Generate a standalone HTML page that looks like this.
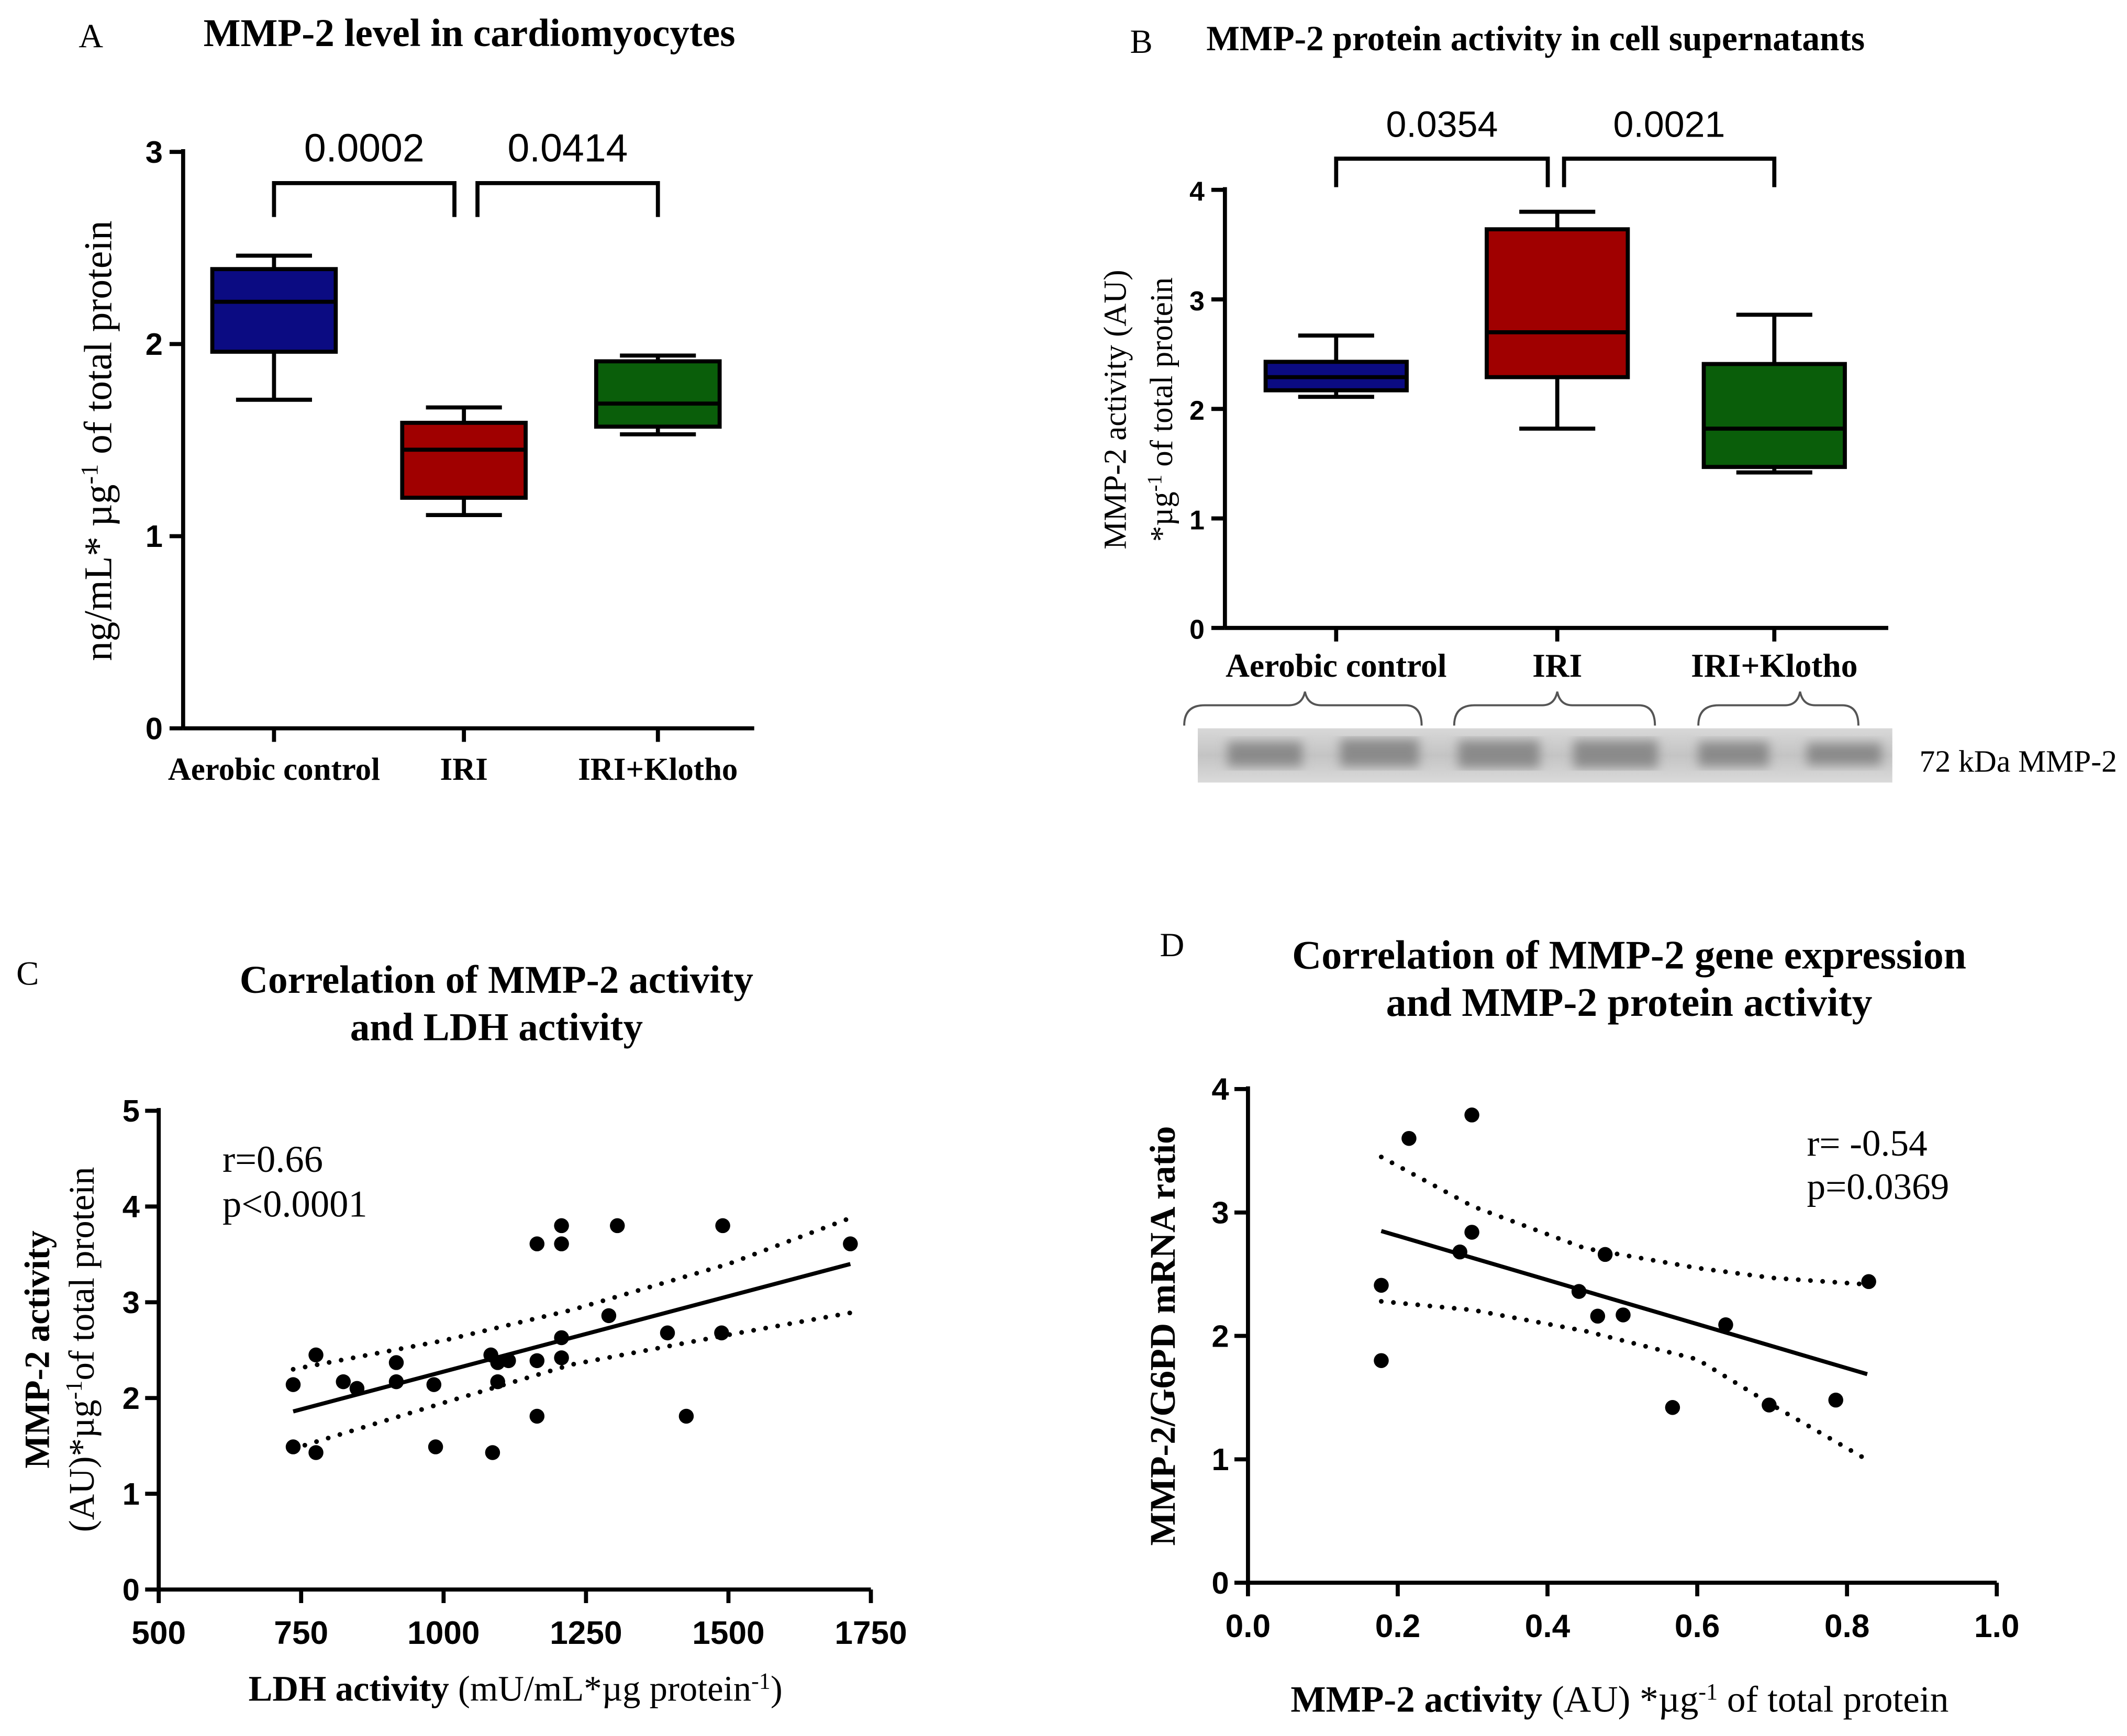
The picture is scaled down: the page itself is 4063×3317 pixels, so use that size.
<!DOCTYPE html>
<html><head><meta charset="utf-8"><style>
html,body{margin:0;padding:0;background:#fff;}
svg{display:block;}
.ser{font-family:"Liberation Serif",serif;}
.sans{font-family:"Liberation Sans",sans-serif;}
</style></head><body>
<svg id="fig" width="4063" height="3317" viewBox="0 0 1568 1280" preserveAspectRatio="none" xmlns="http://www.w3.org/2000/svg">
<defs><filter id="bl"><feGaussianBlur stdDeviation="4"/></filter>
<linearGradient id="gg" x1="0" y1="0" x2="0" y2="1"><stop offset="0" stop-color="#d8d8d8"/><stop offset="0.5" stop-color="#c4c4c4"/><stop offset="1" stop-color="#dadada"/></linearGradient></defs>

<text class="ser" x="58" y="35" font-size="25">A</text>
<text class="ser" x="346" y="34" font-size="29" font-weight="bold" text-anchor="middle">MMP-2 level in cardiomyocytes</text>
<text class="ser" font-size="29" transform="translate(82,325) rotate(-90)" text-anchor="middle">ng/mL* µg<tspan dy="-10" font-size="18">-1</tspan><tspan dy="10"> of total protein</tspan></text>
<g id="gA"></g>

<text class="ser" x="833" y="39" font-size="25">B</text>
<text class="ser" x="1132" y="37" font-size="26" font-weight="bold" text-anchor="middle">MMP-2 protein activity in cell supernatants</text>
<text class="ser" font-size="23.5" transform="translate(830,302) rotate(-90)" text-anchor="middle">MMP-2 activity (AU)</text>
<text class="ser" font-size="23.5" transform="translate(864,302) rotate(-90)" text-anchor="middle">*µg<tspan dy="-8" font-size="15">-1</tspan><tspan dy="8"> of total protein</tspan></text>
<g id="gB"></g>
<g>
<path d="M873,535 Q873,520 888,520 L950,520 Q960,520 962,510 Q964,520 974,520 L1036,520 Q1048,520 1048,535" fill="none" stroke="#555" stroke-width="1.5"/>
<path d="M1072,535 Q1072,520 1087,520 L1137,520 Q1146,520 1148,510 Q1150,520 1159,520 L1208,520 Q1220,520 1220,535" fill="none" stroke="#555" stroke-width="1.5"/>
<path d="M1252,535 Q1252,520 1267,520 L1316,520 Q1325,520 1327,510 Q1329,520 1338,520 L1358,520 Q1370,520 1370,535" fill="none" stroke="#555" stroke-width="1.5"/>
<rect x="883" y="537" width="512" height="40" fill="url(#gg)"/>
<g filter="url(#bl)" fill="#8a8a8a">
<rect x="905" y="547" width="55" height="18"/><rect x="988" y="545" width="58" height="20"/>
<rect x="1075" y="546" width="60" height="20"/><rect x="1160" y="546" width="62" height="20"/>
<rect x="1252" y="547" width="52" height="18"/><rect x="1332" y="548" width="55" height="16"/>
</g>
<text class="ser" x="1415" y="569" font-size="23">72 kDa MMP-2</text>
</g>

<text class="ser" x="12" y="726" font-size="25">C</text>
<text class="ser" x="366" y="732" font-size="29" font-weight="bold" text-anchor="middle">Correlation of MMP-2 activity</text>
<text class="ser" x="366" y="767" font-size="29" font-weight="bold" text-anchor="middle">and LDH activity</text>
<text class="ser" font-size="26" font-weight="bold" transform="translate(36,995) rotate(-90)" text-anchor="middle">MMP-2 activity</text>
<text class="ser" font-size="26.5" transform="translate(69,995) rotate(-90)" text-anchor="middle">(AU)*µg<tspan dy="-9" font-size="17">-1</tspan><tspan dy="9">of total protein</tspan></text>
<text class="ser" x="380" y="1254" font-size="26.5" text-anchor="middle"><tspan font-weight="bold">LDH activity</tspan> (mU/mL*µg protein<tspan dy="-9" font-size="17">-1</tspan><tspan dy="9">)</tspan></text>
<text class="ser" x="164" y="864" font-size="28">r=0.66</text>
<text class="ser" x="164" y="897" font-size="28">p&lt;0.0001</text>
<g id="gC"></g>

<text class="ser" x="855" y="705" font-size="25">D</text>
<text class="ser" x="1201" y="714" font-size="30" font-weight="bold" text-anchor="middle">Correlation of MMP-2 gene expression</text>
<text class="ser" x="1201" y="749" font-size="30" font-weight="bold" text-anchor="middle">and MMP-2 protein activity</text>
<text class="ser" font-size="26.4" font-weight="bold" transform="translate(866,985) rotate(-90)" text-anchor="middle">MMP-2/G6PD mRNA ratio</text>
<text class="ser" x="1194" y="1262" font-size="27.5" text-anchor="middle"><tspan font-weight="bold">MMP-2 activity</tspan> (AU) *µg<tspan dy="-9" font-size="17">-1</tspan><tspan dy="9"> of total protein</tspan></text>
<text class="ser" x="1332" y="852" font-size="27.5">r= -0.54</text>
<text class="ser" x="1332" y="884" font-size="27.5">p=0.0369</text>
<g id="gD"></g>
</svg>
<script>
// ---- Panel A data ----
const aCats = ["Aerobic control","IRI","IRI+Klotho"];
const aMin = [1.71, 1.11, 1.53];
const aQ1 = [1.96, 1.20, 1.57];
const aMed = [2.22, 1.45, 1.69];
const aQ3 = [2.39, 1.59, 1.91];
const aMax = [2.46, 1.67, 1.94];
const aTicks = [0,1,2,3];
const aP = ["0.0002","0.0414"];
// ---- Panel B data ----
const bCats = ["Aerobic control","IRI","IRI+Klotho"];
const bMin = [2.11, 1.82, 1.42];
const bQ1 = [2.17, 2.29, 1.47];
const bMed = [2.29, 2.70, 1.82];
const bQ3 = [2.43, 3.64, 2.41];
const bMax = [2.67, 3.80, 2.86];
const bTicks = [0,1,2,3,4];
const bP = ["0.0354","0.0021"];
// ---- Panel C data ----
const cX = [736,736,776,776,824,848,917,917,983,986,1083,1086,1095,1095,1114,1164,1164,1164,1207,1207,1207,1207,1305,1290,1393,1426,1490,1488,1714];
const cY = [2.14,1.49,2.45,1.43,2.17,2.10,2.37,2.17,2.14,1.49,2.45,1.43,2.37,2.17,2.39,3.61,1.81,2.39,3.80,3.61,2.63,2.42,3.80,2.86,2.68,1.81,3.80,2.68,3.61];
const cFitX = [736,1714];
const cFitY = [1.86,3.40];
const cBandX = [736,1000,1225,1500,1714];
const cUpper = [2.30,2.60,2.92,3.40,3.88];
const cLower = [1.47,1.95,2.35,2.66,2.89];
const cXTicks = [500,750,1000,1250,1500,1750];
const cYTicks = [0,1,2,3,4,5];
// ---- Panel D data ----
const dX = [0.178,0.178,0.215,0.299,0.299,0.283,0.477,0.442,0.467,0.501,0.638,0.567,0.696,0.785,0.829];
const dY = [2.41,1.80,3.60,3.79,2.84,2.68,2.66,2.36,2.16,2.17,2.09,1.42,1.44,1.48,2.44];
const dFitX = [0.178,0.827];
const dFitY = [2.85,1.69];
const dBandX = [0.178,0.3,0.45,0.6,0.7,0.82];
const dUpper = [3.45,3.05,2.71,2.55,2.47,2.42];
const dLower = [2.28,2.21,2.04,1.81,1.44,1.02];
const dXTicks = [0.0,0.2,0.4,0.6,0.8,1.0];
const dYTicks = [0,1,2,3,4];

const NS="http://www.w3.org/2000/svg";
function mk(parent,tag,attrs,text){const e=document.createElementNS(NS,tag);for(const k in attrs)e.setAttribute(k,attrs[k]);if(text!==undefined)e.textContent=text;parent.appendChild(e);return e;}

function boxPanel(g,cfg,cats,mn,q1,md,q3,mx,ticks,pv,colors){
  const y=v=>cfg.y0-(v-ticks[0])/(ticks[ticks.length-1]-ticks[0])*(cfg.y0-cfg.y1);
  let e=mk(g,'line',{x1:cfg.xa,y1:cfg.y1-2,x2:cfg.xa,y2:cfg.y0,stroke:'#000','stroke-width':3});
  
  
  e=mk(g,'line',{x1:cfg.xa,y1:cfg.y0,x2:cfg.xe,y2:cfg.y0,stroke:'#000','stroke-width':3});
  
  
  ticks.forEach(t=>{
    mk(g,'line',{x1:cfg.xa-10,y1:y(t),x2:cfg.xa,y2:y(t),stroke:'#000','stroke-width':3});
    const l=mk(g,'text',{x:cfg.xa-15,y:y(t)+8,'font-size':cfg.tfs,'font-weight':'bold','text-anchor':'end',class:'sans'},String(t));
    
    
  });
  cats.forEach((c,i)=>{
    const cx=cfg.cx[i],w=cfg.bw;
    mk(g,'line',{x1:cx,y1:cfg.y0,x2:cx,y2:cfg.y0+10,stroke:'#000','stroke-width':3});
    const lab=mk(g,'text',{x:cx,y:cfg.ly,'font-size':cfg.lfs,'font-weight':'bold','text-anchor':'middle',class:'ser'},c);
    
    
    const wh=mk(g,'path',{d:`M${cx},${y(mx[i])}V${y(q3[i])}M${cx},${y(q1[i])}V${y(mn[i])}M${cx-cfg.cap},${y(mx[i])}H${cx+cfg.cap}M${cx-cfg.cap},${y(mn[i])}H${cx+cfg.cap}`,stroke:'#000','stroke-width':3,fill:'none'});
    
    
    const b=mk(g,'rect',{x:cx-w/2,y:y(q3[i]),width:w,height:y(q1[i])-y(q3[i]),fill:colors[i],stroke:'#000','stroke-width':3});
    
    
    const m=mk(g,'line',{x1:cx-w/2,y1:y(md[i]),x2:cx+w/2,y2:y(md[i]),stroke:'#000','stroke-width':3});
    
    
  });
  cfg.br.forEach((br,k)=>{
    const p=mk(g,'path',{d:`M${br[0]},${br[3]}V${br[2]}H${br[1]}V${br[3]}`,stroke:'#000','stroke-width':3,fill:'none'});
    
    
    const t=mk(g,'text',{x:(br[0]+br[1])/2,y:br[2]-16,'font-size':cfg.pfs,'text-anchor':'middle',class:'sans'},pv[k]);
    
    
  });
}
const colors=['#0b0b82','#a00000','#0a5e0a'];
boxPanel(document.getElementById('gA'),{xa:135,xe:556,y0:537,y1:112,cx:[202,342,485],bw:91,cap:28,ly:575,lfs:23.5,tfs:23,pfs:29,
  br:[[202,335,135,160],[352,485,135,160]]},aCats,aMin,aQ1,aMed,aQ3,aMax,aTicks,aP,colors);
boxPanel(document.getElementById('gB'),{xa:903,xe:1392,y0:463,y1:140,cx:[985,1148,1308],bw:104,cap:28,ly:499,lfs:24.5,tfs:20,pfs:27,
  br:[[985,1141,117,138],[1153,1308,117,138]]},bCats,bMin,bQ1,bMed,bQ3,bMax,bTicks,bP,colors);

function scatter(g,cfg,X,Y,fx,fy,bx,up,lo,xt,yt,fmt){
  const sx=v=>cfg.x0+(v-xt[0])/(xt[xt.length-1]-xt[0])*(cfg.x1-cfg.x0);
  const sy=v=>cfg.y0-(v-yt[0])/(yt[yt.length-1]-yt[0])*(cfg.y0-cfg.y1);
  let e=mk(g,'line',{x1:cfg.x0,y1:cfg.y1-2,x2:cfg.x0,y2:cfg.y0,stroke:'#000','stroke-width':3});
  
  
  e=mk(g,'line',{x1:cfg.x0,y1:cfg.y0,x2:cfg.x1,y2:cfg.y0,stroke:'#000','stroke-width':3});
  
  
  yt.forEach(t=>{
    mk(g,'line',{x1:cfg.x0-10,y1:sy(t),x2:cfg.x0,y2:sy(t),stroke:'#000','stroke-width':3});
    const l=mk(g,'text',{x:cfg.x0-14,y:sy(t)+8,'font-size':23,'font-weight':'bold','text-anchor':'end',class:'sans'},String(t));
    
    
  });
  xt.forEach(t=>{
    mk(g,'line',{x1:sx(t),y1:cfg.y0,x2:sx(t),y2:cfg.y0+10,stroke:'#000','stroke-width':3});
    const l=mk(g,'text',{x:sx(t),y:cfg.y0+40,'font-size':24,'font-weight':'bold','text-anchor':'middle',class:'sans'},fmt(t));
    
    
  });
  const pts=a=>bx.map((v,i)=>`${sx(v)},${sy(a[i])}`).join(' ');
  const u=mk(g,'polyline',{points:pts(up),fill:'none',stroke:'#000','stroke-width':3.5,'stroke-dasharray':'0 9','stroke-linecap':'round'});
  
  
  const l=mk(g,'polyline',{points:pts(lo),fill:'none',stroke:'#000','stroke-width':3.5,'stroke-dasharray':'0 9','stroke-linecap':'round'});
  
  
  const f=mk(g,'line',{x1:sx(fx[0]),y1:sy(fy[0]),x2:sx(fx[1]),y2:sy(fy[1]),stroke:'#000','stroke-width':3});
  
  
  X.forEach((v,i)=>{
    const c=mk(g,'circle',{cx:sx(v),cy:sy(Y[i]),r:5.5,fill:'#000'});
    
    
  });
}
scatter(document.getElementById('gC'),{x0:117,x1:642,y0:1172,y1:819},cX,cY,cFitX,cFitY,cBandX,cUpper,cLower,cXTicks,cYTicks,t=>String(t));
scatter(document.getElementById('gD'),{x0:920,x1:1472,y0:1167,y1:803},dX,dY,dFitX,dFitY,dBandX,dUpper,dLower,dXTicks,dYTicks,t=>t.toFixed(1));
</script>
</body></html>
